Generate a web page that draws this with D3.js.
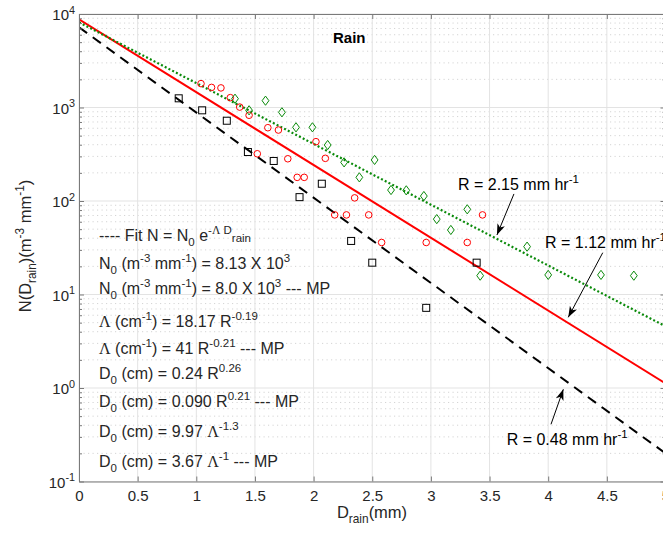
<!DOCTYPE html>
<html><head><meta charset="utf-8">
<script src="https://cdn.jsdelivr.net/npm/d3@7/dist/d3.min.js"></script>
<style>body{margin:0;background:#fff}svg{display:block}</style>
</head><body>
<svg id="c" width="663" height="533"></svg>
<script>
// ---------------- data ----------------
const redD   = [1.04,1.13,1.21,1.29,1.37,1.45,1.52,1.61,1.70,1.78,1.86,1.92,2.02,2.10,2.18,2.28,2.35,2.47,2.58,2.96,3.31,3.44];
const redN   = [1800,1640,1620,1275,1010,826,320,608,574,283,179,179,431,286,71,71,108,71,36,36,36,71];
const greenD = [1.33,1.45,1.59,1.73,1.85,1.99,2.12,2.26,2.39,2.52,2.66,2.79,2.94,3.05,3.17,3.31,3.42,3.82,4.00,4.45,4.73];
const greenN = [1242,933,1183,889,614,614,397,259,179,275,131,130,113,64,49,81.5,15.9,32.5,16.2,16.2,15.9];
const blackD = [0.85,1.05,1.26,1.44,1.66,1.88,2.07,2.32,2.50,2.96,3.39];
const blackN = [1254,933,722,334,268,110,153,37.4,21.9,7.2,21.9];

// fitted exponential lines: N at D = 0 and D = 5
const fitD      = [0, 5];
const fitRedN   = [8770, 1.12];
const fitGreenN = [8150, 4.57];
const fitBlackN = [7210, 0.20];

const xTicks      = [0,0.5,1,1.5,2,2.5,3,3.5,4,4.5,5];
const xTickLabels = ["0","0.5","1","1.5","2","2.5","3","3.5","4","4.5","5"];
const yTickExps   = [-1,0,1,2,3,4];

const rateLabels = ["R = 2.15 mm hr","R = 1.12 mm hr","R = 0.48 mm hr"];
// annotation anchors in data space: [textD, textN, arrowStartD, arrowStartN, tipD, tipN]
const rateAnchors = [
  [3.231, 131, 3.708, 119, 3.563, 43.3],
  [3.973, 31.4, 4.465, 28.0, 4.171, 5.70],
  [3.646, 0.245, 4.024, 0.409, 4.129, 0.968]
];

// ---------------- setup ----------------
const FONT = "'Liberation Sans', Arial, Helvetica, sans-serif";
const SERIF = "'Liberation Serif', 'Times New Roman', serif";
const TXT = "#262626";
const svg = d3.select("#c");
const L = 79, R = 665.5, T = 14, B = 481.5;
const x = d3.scaleLinear().domain([0,5]).range([L,R]);
const y = d3.scaleLog().domain([0.1,1e4]).range([B,T]);

svg.append("defs").append("clipPath").attr("id","clip")
  .append("rect").attr("x",L).attr("y",T).attr("width",R-L).attr("height",B-T);

// rich text helper: parts = [text, sizeFactor, level(em, negative=up), family?]
function rich(g, px, py, parts, size, anchor, weight) {
  const t = g.append("text").attr("x",px).attr("y",py)
    .attr("font-family",FONT).attr("font-size",size).attr("fill",TXT)
    .attr("text-anchor",anchor||"start");
  if (weight) t.attr("font-weight",weight);
  let prev = 0;
  parts.forEach(p => {
    const lvl = p[2]||0;
    const ts = t.append("tspan").text(p[0])
      .attr("font-size", size*(p[1]||1))
      .attr("dy", ((lvl-prev)*size).toFixed(2));
    if (p[3]) ts.attr("font-family", p[3]);
    prev = lvl;
  });
  return t;
}
const SUP = -0.42, SUB = 0.32, SS = 0.72;

// ---------------- grid ----------------
const grid = svg.append("g");
const minors = [];
for (let e = -1; e < 4; e++) for (let m = 2; m <= 9; m++) minors.push(m*Math.pow(10,e));
grid.selectAll("line.mn").data(minors).join("line")
  .attr("x1",L).attr("x2",R).attr("y1",d=>y(d)).attr("y2",d=>y(d))
  .attr("stroke","#d4d4d4").attr("stroke-width",1).attr("stroke-dasharray","1.2,3.3");
grid.selectAll("line.mjy").data(yTickExps).join("line")
  .attr("x1",L).attr("x2",R).attr("y1",d=>y(Math.pow(10,d))).attr("y2",d=>y(Math.pow(10,d)))
  .attr("stroke","#e3e3e3").attr("stroke-width",1);
grid.selectAll("line.mjx").data(xTicks).join("line")
  .attr("x1",d=>x(d)).attr("x2",d=>x(d)).attr("y1",T).attr("y2",B)
  .attr("stroke","#e3e3e3").attr("stroke-width",1);

// ---------------- fit lines ----------------
const lineGen = d3.line().x(d=>x(d[0])).y(d=>y(d[1]));
const lines = svg.append("g").attr("clip-path","url(#clip)");
lines.append("path").attr("d", lineGen(fitD.map((d,i)=>[d,fitBlackN[i]])))
  .attr("fill","none").attr("stroke","#000").attr("stroke-width",2).attr("stroke-dasharray","10,7");
lines.append("path").attr("d", lineGen(fitD.map((d,i)=>[d,fitRedN[i]])))
  .attr("fill","none").attr("stroke","#ff0000").attr("stroke-width",2);
lines.append("path").attr("d", lineGen(fitD.map((d,i)=>[d,fitGreenN[i]])))
  .attr("fill","none").attr("stroke","#0a8a0a").attr("stroke-width",2.2).attr("stroke-dasharray","2,2.2");

// ---------------- markers ----------------
const mk = svg.append("g");
mk.selectAll("circle").data(redD.map((d,i)=>[d,redN[i]])).join("circle")
  .attr("cx",d=>x(d[0])).attr("cy",d=>y(d[1])).attr("r",3.3)
  .attr("fill","none").attr("stroke","#ff0000").attr("stroke-width",1);
mk.selectAll("rect").data(blackD.map((d,i)=>[d,blackN[i]])).join("rect")
  .attr("x",d=>x(d[0])-3.5).attr("y",d=>y(d[1])-3.5).attr("width",7).attr("height",7)
  .attr("fill","none").attr("stroke","#000").attr("stroke-width",1);
mk.selectAll("path.dia").data(greenD.map((d,i)=>[d,greenN[i]])).join("path")
  .attr("d",d=>{const cx=x(d[0]),cy=y(d[1]);return `M${cx},${cy-4.6}L${cx+3.4},${cy}L${cx},${cy+4.6}L${cx-3.4},${cy}Z`;})
  .attr("fill","none").attr("stroke","#0a8a0a").attr("stroke-width",1);

// ---------------- axes ----------------
const AX = "#7a7a7a";
function styleAxis(g){ g.selectAll("path.domain").attr("stroke",AX); g.selectAll(".tick line").attr("stroke",AX); }
const xb = svg.append("g").attr("transform",`translate(0,${B})`)
  .call(d3.axisBottom(x).tickValues(xTicks).tickSize(-5).tickSizeOuter(0).tickPadding(9)
        .tickFormat((d,i)=>xTickLabels[i]));
xb.selectAll("text").attr("font-family",FONT).attr("font-size",15).attr("fill",TXT);
styleAxis(xb);
const xt = svg.append("g").attr("transform",`translate(0,${T})`)
  .call(d3.axisTop(x).tickValues(xTicks).tickSize(-5).tickSizeOuter(0).tickFormat(""));
styleAxis(xt);
const decs = yTickExps.map(e=>Math.pow(10,e));
const yl = svg.append("g").attr("transform",`translate(${L},0)`)
  .call(d3.axisLeft(y).tickValues(decs).tickSize(-5).tickSizeOuter(0).tickFormat(""));
styleAxis(yl);
const yl2 = svg.append("g").attr("transform",`translate(${L},0)`)
  .call(d3.axisLeft(y).tickValues(minors).tickSize(-3).tickSizeOuter(0).tickFormat(""));
styleAxis(yl2); yl2.select("path.domain").remove();
const yr = svg.append("g").attr("transform",`translate(${R},0)`)
  .call(d3.axisRight(y).tickValues(decs).tickSize(-5).tickSizeOuter(0).tickFormat(""));
styleAxis(yr);
const yr2 = svg.append("g").attr("transform",`translate(${R},0)`)
  .call(d3.axisRight(y).tickValues(minors).tickSize(-3).tickSizeOuter(0).tickFormat(""));
styleAxis(yr2); yr2.select("path.domain").remove();

// y tick labels 10^n
const ylab = svg.append("g");
yTickExps.forEach(e => {
  rich(ylab, 75, y(Math.pow(10,e))+6, [["10",1,0],[String(e),SS,SUP]], 15, "end");
});

// axis titles
rich(svg, 372, 518, [["D",1,0],["rain",SS,SUB],["(mm)",1,0]], 16.5, "middle");
const yg = svg.append("g").attr("transform","translate(30.5,246) rotate(-90)");
rich(yg, 0, 0, [["N(D",1,0],["rain",SS,SUB],[")(m",1,0],["-3",SS,SUP],[" mm",1,0],["-1",SS,SUP],[")",1,0]], 16.5, "middle");

// title
rich(svg, 333, 43.3, [["Rain",1,0]], 15, "start", "bold").attr("fill","#000");

// ---------------- legend text ----------------
const lg = svg.append("g");
const legLines = [
  [["---- Fit N = N",1,0],["0",SS,SUB],[" e",1,0],["-",SS,SUP],["\u039B",SS,SUP,SERIF],[" D",SS,SUP],["rain",SS,0.12]],
  [["N",1,0],["0",SS,SUB],[" (m",1,0],["-3",SS,SUP],[" mm",1,0],["-1",SS,SUP],[") = 8.13 X 10",1,0],["3",SS,SUP]],
  [["N",1,0],["0",SS,SUB],[" (m",1,0],["-3",SS,SUP],[" mm",1,0],["-1",SS,SUP],[") = 8.0 X 10",1,0],["3",SS,SUP],[" --- MP",1,0]],
  [["\u039B",1,0,SERIF],[" (cm",1,0],["-1",SS,SUP],[") = 18.17 R",1,0],["-0.19",SS,SUP]],
  [["\u039B",1,0,SERIF],[" (cm",1,0],["-1",SS,SUP],[") = 41 R",1,0],["-0.21",SS,SUP],[" --- MP",1,0]],
  [["D",1,0],["0",SS,SUB],[" (cm) = 0.24 R",1,0],["0.26",SS,SUP]],
  [["D",1,0],["0",SS,SUB],[" (cm) = 0.090 R",1,0],["0.21",SS,SUP],[" --- MP",1,0]],
  [["D",1,0],["0",SS,SUB],[" (cm) = 9.97 ",1,0],["\u039B",1,0,SERIF],["-1.3",SS,SUP]],
  [["D",1,0],["0",SS,SUB],[" (cm) = 3.67 ",1,0],["\u039B",1,0,SERIF],["-1",SS,SUP],[" --- MP",1,0]]
];
const legBase = [240.5, 268.5, 294, 327, 354, 379, 407, 437, 467];
legLines.forEach((parts,i) => rich(lg, 99, legBase[i], parts, 16, "start"));

// ---------------- annotations ----------------
const an = svg.append("g");
function arrow(x1,y1,x2,y2){
  an.append("line").attr("x1",x1).attr("y1",y1).attr("x2",x2).attr("y2",y2)
    .attr("stroke","#000").attr("stroke-width",1);
  const a = Math.atan2(y2-y1,x2-x1), len=11, w=4, back=8;
  const ux=Math.cos(a), uy=Math.sin(a), nx=-uy, ny=ux;
  const bx=x2-ux*len, by=y2-uy*len, mx=x2-ux*back, my=y2-uy*back;
  an.append("path").attr("d",`M${x2},${y2}L${bx+nx*w},${by+ny*w}L${mx},${my}L${bx-nx*w},${by-ny*w}Z`)
    .attr("fill","#000");
}
rateAnchors.forEach((a,i) => {
  rich(an, x(a[0]), y(a[1]), [[rateLabels[i],1,0],["-1",SS,SUP]], 16, "start").attr("fill","#000");
  arrow(x(a[2]),y(a[3]),x(a[4]),y(a[5]));
});
</script>
</body></html>
